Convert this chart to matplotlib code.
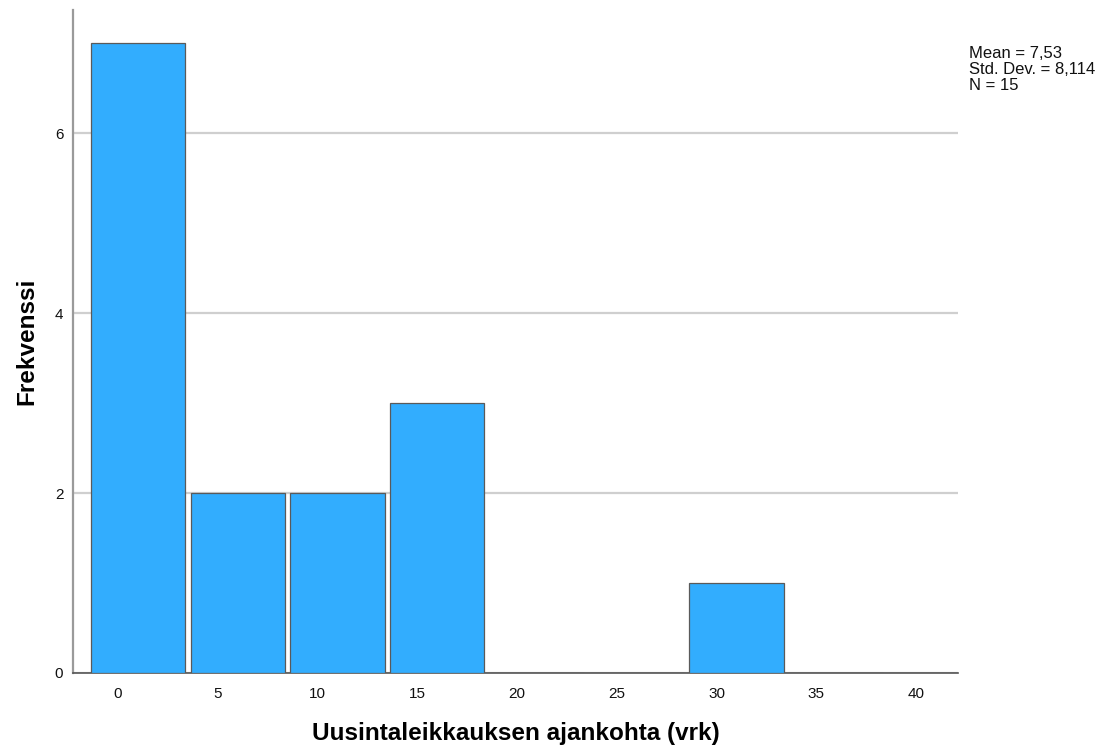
import matplotlib
matplotlib.use("Agg")
import matplotlib.pyplot as plt

plt.rcParams['font.family'] = ['Liberation Sans', 'DejaVu Sans']

# Histogram bins (width 5) and frequencies
bin_centers = [1, 6, 11, 16, 21, 26, 31, 36, 41]
frequencies = [7, 2, 2, 3, 0, 0, 1, 0, 0]
x_ticks = [0, 5, 10, 15, 20, 25, 30, 35, 40]
y_ticks = [0, 2, 4, 6]
stats_lines = ["Mean = 7,53", "Std. Dev. = 8,114", "N = 15"]

fig = plt.figure(figsize=(10.99, 7.48), dpi=100)
ax = fig.add_axes([0.0664, 0.1003, 0.8053, 0.8863])

ax.bar(bin_centers, frequencies, width=4.72, color='#32adfe',
       edgecolor='#5a5a5a', linewidth=0.9, zorder=3)

ax.set_xlim(-2.26, 42.1)
ax.set_ylim(0, 7.37)
ax.set_xticks(x_ticks)
ax.set_yticks(y_ticks)
ax.tick_params(axis='both', length=0, labelsize=11, colors='#111111')
ax.tick_params(axis='x', pad=10)
ax.tick_params(axis='y', pad=7)

ax.yaxis.grid(True, color='#cfcfcf', linewidth=1.6, zorder=0)
ax.set_axisbelow(True)

for side in ('top', 'right'):
    ax.spines[side].set_visible(False)
ax.spines['left'].set_color('#9a9a9a')
ax.spines['left'].set_linewidth(1.6)
ax.spines['bottom'].set_color('#555555')
ax.spines['bottom'].set_linewidth(1.2)

ax.set_xlabel("Uusintaleikkauksen ajankohta (vrk)", fontsize=17.5,
              fontweight='bold', labelpad=15)
ax.set_ylabel("Frekvenssi", fontsize=17.5, fontweight='bold', labelpad=12)

fig.text(969 / 1099, 1 - 46 / 748, "\n".join(stats_lines), fontsize=12,
         va='top', ha='left', linespacing=1.08, color='#111111')

fig.savefig("out.png", dpi=100, facecolor='white')
